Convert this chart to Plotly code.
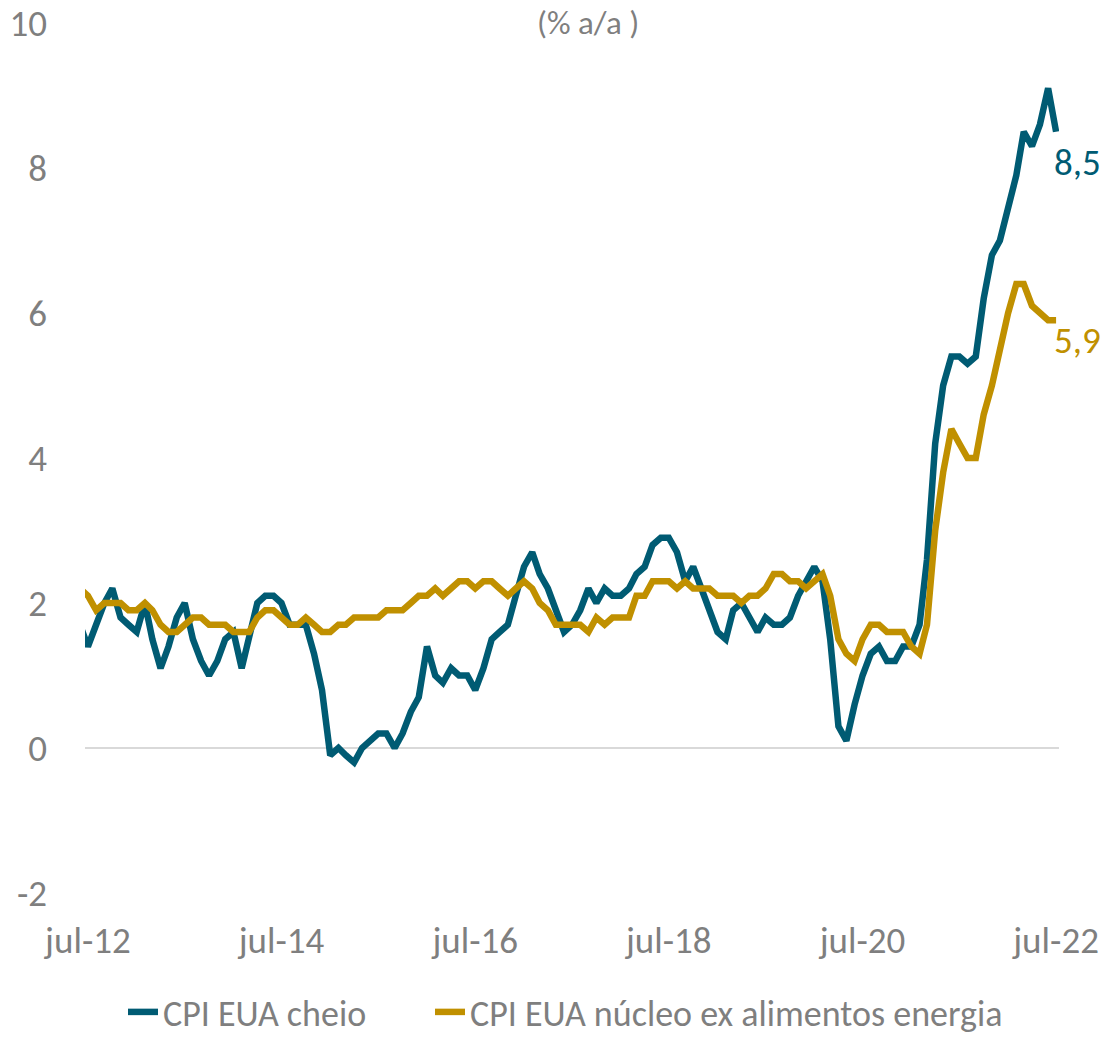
import pandas as pd
import plotly.graph_objects as go

# Monthly dates: Jun-2012 .. Jul-2022
dates = pd.date_range("2012-06-01", "2022-07-01", freq="MS")

cpi_cheio = [
    1.7, 1.4, 1.7, 2.0, 2.2, 1.8, 1.7,                      # 2012 Jun-Dec
    1.6, 2.0, 1.5, 1.1, 1.4, 1.8, 2.0, 1.5, 1.2, 1.0, 1.2, 1.5,   # 2013
    1.6, 1.1, 1.5, 2.0, 2.1, 2.1, 2.0, 1.7, 1.7, 1.7, 1.3, 0.8,   # 2014
    -0.1, 0.0, -0.1, -0.2, 0.0, 0.1, 0.2, 0.2, 0.0, 0.2, 0.5, 0.7,  # 2015
    1.4, 1.0, 0.9, 1.1, 1.0, 1.0, 0.8, 1.1, 1.5, 1.6, 1.7, 2.1,   # 2016
    2.5, 2.7, 2.4, 2.2, 1.9, 1.6, 1.7, 1.9, 2.2, 2.0, 2.2, 2.1,   # 2017
    2.1, 2.2, 2.4, 2.5, 2.8, 2.9, 2.9, 2.7, 2.3, 2.5, 2.2, 1.9,   # 2018
    1.6, 1.5, 1.9, 2.0, 1.8, 1.6, 1.8, 1.7, 1.7, 1.8, 2.1, 2.3,   # 2019
    2.5, 2.3, 1.5, 0.3, 0.1, 0.6, 1.0, 1.3, 1.4, 1.2, 1.2, 1.4,   # 2020
    1.4, 1.7, 2.6, 4.2, 5.0, 5.4, 5.4, 5.3, 5.4, 6.2, 6.8, 7.0,   # 2021
    7.5, 7.9, 8.5, 8.3, 8.6, 9.1, 8.5,                            # 2022
]

cpi_nucleo = [
    2.2, 2.1, 1.9, 2.0, 2.0, 2.0, 1.9,                      # 2012 Jun-Dec
    1.9, 2.0, 1.9, 1.7, 1.6, 1.6, 1.7, 1.8, 1.8, 1.7, 1.7, 1.7,   # 2013
    1.6, 1.6, 1.6, 1.8, 1.9, 1.9, 1.8, 1.7, 1.7, 1.8, 1.7, 1.6,   # 2014
    1.6, 1.7, 1.7, 1.8, 1.8, 1.8, 1.8, 1.9, 1.9, 1.9, 2.0, 2.1,   # 2015
    2.1, 2.2, 2.1, 2.2, 2.3, 2.3, 2.2, 2.3, 2.3, 2.2, 2.1, 2.2,   # 2016
    2.3, 2.2, 2.0, 1.9, 1.7, 1.7, 1.7, 1.7, 1.6, 1.8, 1.7, 1.8,   # 2017
    1.8, 1.8, 2.1, 2.1, 2.3, 2.3, 2.3, 2.2, 2.3, 2.2, 2.2, 2.2,   # 2018
    2.1, 2.1, 2.1, 2.0, 2.1, 2.1, 2.2, 2.4, 2.4, 2.3, 2.3, 2.2,   # 2019
    2.3, 2.4, 2.1, 1.5, 1.3, 1.2, 1.5, 1.7, 1.7, 1.6, 1.6, 1.6,   # 2020
    1.4, 1.3, 1.7, 3.0, 3.8, 4.4, 4.2, 4.0, 4.0, 4.6, 5.0, 5.5,   # 2021
    6.0, 6.4, 6.4, 6.1, 6.0, 5.9, 5.9,                            # 2022
]

tick_dates = ["2012-07-01", "2014-07-01", "2016-07-01", "2018-07-01", "2020-07-01", "2022-07-01"]
tick_labels = ["jul-12", "jul-14", "jul-16", "jul-18", "jul-20", "jul-22"]
y_ticks = [-2, 0, 2, 4, 6, 8, 10]
y_labels = ["-2", "0", "2", "4", "6", "8", "10"]

COL_CHEIO = "#005B73"
COL_NUCLEO = "#C09000"
GRAY = "#7F7F7F"
FONT = "Carlito, Lato, sans-serif"

W, H = 1106, 1038
L, R, T, B = 85, 47, 23, 145

fig = go.Figure()
fig.add_trace(go.Scatter(x=dates, y=cpi_cheio, mode="lines", name="CPI EUA cheio",
                         legendwidth=262,
                         line=dict(color=COL_CHEIO, width=6.5)))
fig.add_trace(go.Scatter(x=dates, y=cpi_nucleo, mode="lines", name="CPI EUA núcleo ex alimentos energia",
                         line=dict(color=COL_NUCLEO, width=6.5)))

fig.add_annotation(x=dates[-1], y=cpi_cheio[-1], text="8,5", showarrow=False,
                   xanchor="left", yanchor="middle", xshift=-4, yshift=-31,
                   font=dict(family=FONT, size=37, color=COL_CHEIO))
fig.add_annotation(x=dates[-1], y=cpi_nucleo[-1], text="5,9", showarrow=False,
                   xanchor="left", yanchor="middle", xshift=-4, yshift=-20,
                   font=dict(family=FONT, size=37, color=COL_NUCLEO))
fig.add_annotation(x=(588 - L) / (W - L - R), y=1.0, xref="paper", yref="paper",
                   text="(% a/a )", showarrow=False, xanchor="center", yanchor="middle",
                   font=dict(family=FONT, size=33, color=GRAY))

fig.update_layout(
    width=W, height=H,
    margin=dict(l=L, r=R, t=T, b=B),
    paper_bgcolor="white", plot_bgcolor="white",
    font=dict(family=FONT, size=37, color=GRAY),
    showlegend=True,
    legend=dict(orientation="h", xref="container", x=123 / W, xanchor="left",
                yref="container", y=(H - 1012) / H, yanchor="middle",
                font=dict(family=FONT, size=36, color=GRAY),
                bgcolor="rgba(0,0,0,0)"),
)
fig.update_xaxes(range=["2012-06-20", "2022-07-12"], tickvals=tick_dates, ticktext=tick_labels,
                 showgrid=False, zeroline=False, showline=False, ticks="", automargin=False,
                 ticklabeloverflow="allow",
                 ticklabelstandoff=22, tickfont=dict(family=FONT, size=37, color=GRAY))
fig.update_yaxes(range=[-2, 10], tickvals=y_ticks, ticktext=y_labels, showgrid=False,
                 zeroline=True, zerolinecolor="#D9D9D9", zerolinewidth=2,
                 showline=False, ticks="", automargin=False, ticklabelstandoff=37,
                 ticklabeloverflow="allow",
                 tickfont=dict(family=FONT, size=37, color=GRAY))

fig.write_html("out.html", config={"displayModeBar": False},
               post_script="document.body.style.margin='0px';")
